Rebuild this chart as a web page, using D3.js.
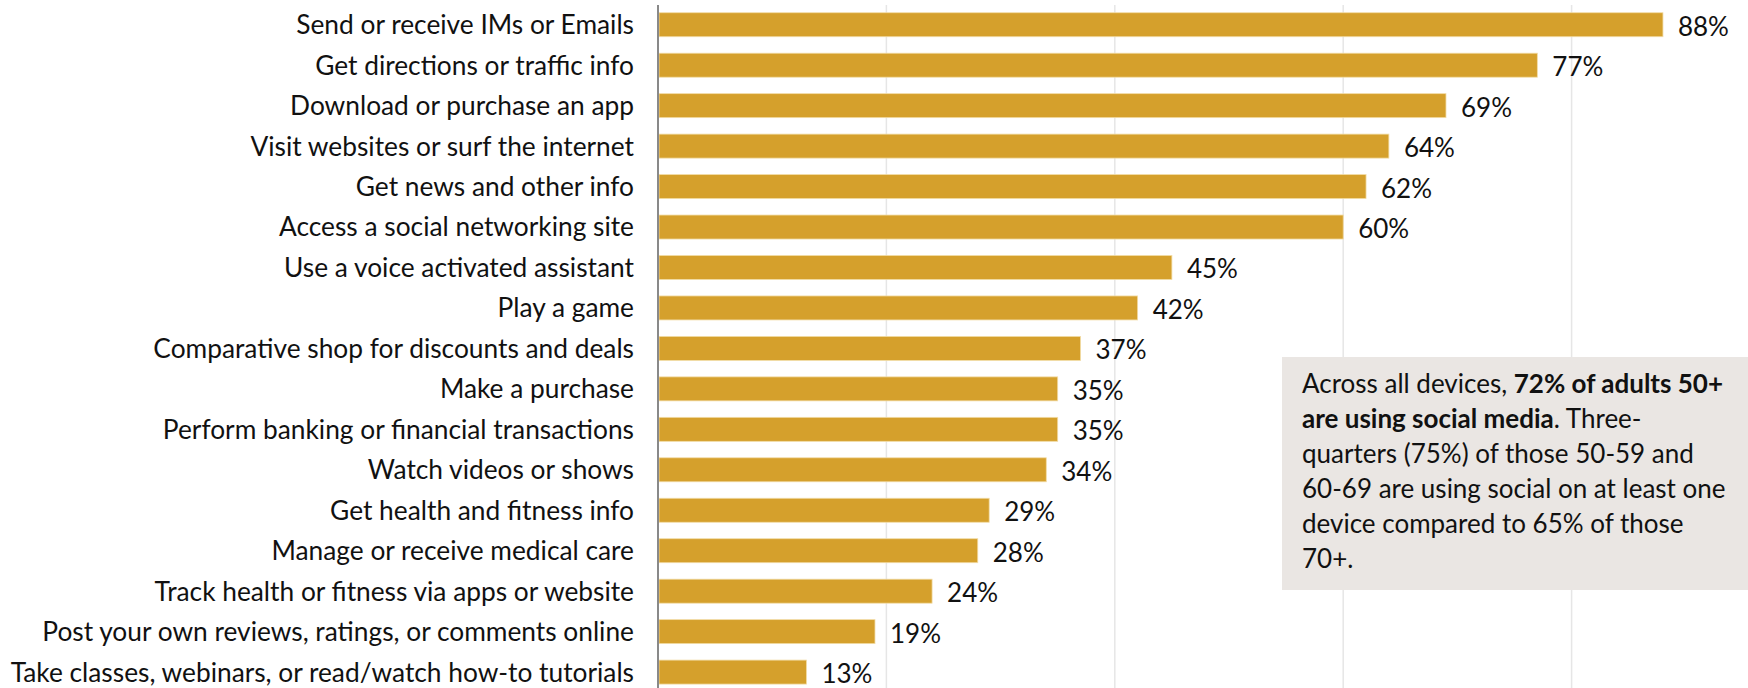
<!DOCTYPE html>
<html>
<head>
<meta charset="utf-8">
<script src="https://cdn.jsdelivr.net/npm/d3@7"></script>
<style>
  html, body { margin: 0; padding: 0; background: #fff; }
  svg { display: block; }
  text { font-family: Lato, "Noto Sans", sans-serif; fill: #111; }
</style>
</head>
<body>
<svg id="chart" width="1748" height="688"></svg>
<script>
// Activities done on a smartphone (share of adults 50+)
const categories = [
  "Send or receive IMs or Emails",
  "Get directions or traffic info",
  "Download or purchase an app",
  "Visit websites or surf the internet",
  "Get news and other info",
  "Access a social networking site",
  "Use a voice activated assistant",
  "Play a game",
  "Comparative shop for discounts and deals",
  "Make a purchase",
  "Perform banking or financial transactions",
  "Watch videos or shows",
  "Get health and fitness info",
  "Manage or receive medical care",
  "Track health or fitness via apps or website",
  "Post your own reviews, ratings, or comments online",
  "Take classes, webinars, or read/watch how-to tutorials"
];
const values = [88, 77, 69, 64, 62, 60, 45, 42, 37, 35, 35, 34, 29, 28, 24, 19, 13];
const gridTicks = [20, 40, 60, 80];

// Call-out text, split into lines of (text, bold) runs
const noteLines = [
  [["Across all devices, ", false], ["72% of adults 50+", true]],
  [["are using social media", true], [". Three-", false]],
  [["quarters (75%) of those 50-59 and", false]],
  [["60-69 are using social on at least one", false]],
  [["device compared to 65% of those", false]],
  [["70+.", false]]
];

const svg = d3.select("#chart");
const W = 1748, H = 688;
const x0 = 658;

const x = d3.scaleLinear().domain([0, 100]).range([x0, x0 + 1142]);
const y = d3.scaleBand()
  .domain(categories)
  .range([4.5, 4.5 + 17 * 40.46])
  .paddingInner(0.407)
  .paddingOuter(0.2035);

// vertical gridlines
svg.append("g")
  .selectAll("line")
  .data(gridTicks)
  .join("line")
  .attr("x1", d => x(d)).attr("x2", d => x(d))
  .attr("y1", 5).attr("y2", H)
  .attr("stroke", "#e6e6e6")
  .attr("stroke-width", 1.5);

// bars
svg.append("g")
  .selectAll("rect")
  .data(values)
  .join("rect")
  .attr("x", x(0) + 1)
  .attr("y", (d, i) => y(categories[i]))
  .attr("width", d => x(d) - x(0) - 1)
  .attr("height", y.bandwidth())
  .attr("fill", "#d5a02c")
  .attr("stroke", "#f2dca6")
  .attr("stroke-width", 0.8);

// value labels
svg.append("g")
  .selectAll("text")
  .data(values)
  .join("text")
  .attr("x", d => x(d) + 15)
  .attr("y", (d, i) => y(categories[i]) + y.bandwidth() / 2 + 1)
  .attr("dominant-baseline", "central")
  .attr("font-size", 26)
  .text(d => d + "%");

// category axis
const yAxis = d3.axisLeft(y).tickSize(0).tickPadding(24);
const ga = svg.append("g").attr("transform", `translate(${x0},0)`).call(yAxis);
ga.select(".domain").remove();
ga.selectAll("text")
  .attr("font-size", 26.3)
  .attr("font-family", "Lato, 'Noto Sans', sans-serif")
  .attr("fill", "#111")
  .attr("dy", "0.36em");

// axis line
svg.append("line")
  .attr("x1", x0).attr("x2", x0)
  .attr("y1", 5).attr("y2", H)
  .attr("stroke", "#898989")
  .attr("stroke-width", 2);

// call-out box
svg.append("rect")
  .attr("x", 1282).attr("y", 357)
  .attr("width", W - 1282).attr("height", 233)
  .attr("fill", "#eae6e3");

const note = svg.append("text")
  .attr("x", 1302).attr("y", 393)
  .attr("font-size", 26);
noteLines.forEach((runs, i) => {
  runs.forEach((r, j) => {
    const t = note.append("tspan").text(r[0]).attr("font-weight", r[1] ? 700 : 400);
    if (j === 0) t.attr("x", 1302).attr("y", 393 + i * 35);
  });
});
</script>
</body>
</html>
